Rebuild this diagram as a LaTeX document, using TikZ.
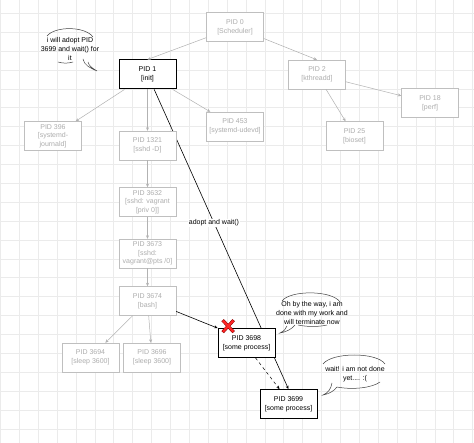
\documentclass[tikz,border=0pt]{standalone}
\usepackage{fontspec}
\setmainfont{Liberation Sans}
\usetikzlibrary{positioning,calc,arrows.meta,backgrounds}

\begin{document}
\begin{tikzpicture}[x=1pt,y=-1pt,>={Stealth[length=3.5pt,width=3pt]}]
        \tikzstyle{proc}=[draw=black!25,text=black!32,fill=white,rectangle,minimum width=57,minimum height=29,inner sep=1pt,align=center,font=\fontsize{7}{8.7}\selectfont]
        \tikzstyle{live}=[proc,draw=black,text=black,line width=0.7pt]
        \tikzstyle{fork}=[->,draw=black!30,line width=0.5pt]
        \tikzstyle{talk}=[align=center,inner sep=1pt,font=\fontsize{7}{8.7}\selectfont]
        \tikzstyle{bubble}=[draw=black!75,line width=0.5pt]

        \useasboundingbox (0,0) rectangle (474,443);
        \begin{pgfonlayer}{background}
            \fill[white] (0,0) rectangle (474,443);
            \foreach \i in {0,...,25}
                \draw[black!8,line width=0.3pt] (0.2+18.89*\i,0) -- (0.2+18.89*\i,443);
            \foreach \i in {0,...,22}
                \draw[black!8,line width=0.3pt] (0,13.1+18.89*\i) -- (474,13.1+18.89*\i);
        \end{pgfonlayer}

        % kernel side
        \node[proc] (p0) at (235,27) {PID 0\\{}[Scheduler]};
        \node[proc] (p2) at (317,74.5) {PID 2\\{}[kthreadd]};
        \node[proc] (p18) at (430,103) {PID 18\\{}[perf]};
        \node[proc] (p25) at (354.5,136) {PID 25\\{}[bioset]};

        % init and its children
        \node[live,line width=1pt] (p1) at (147.5,74.5) {PID 1\\{}[init]};
        \node[proc] (p396) at (53,136) {PID 396\\{}[systemd-\\journald]};
        \node[proc] (p453) at (235,126.5) {PID 453\\{}[systemd-udevd]};
        \node[proc] (p1321) at (147.5,145.5) {PID 1321\\{}[sshd -D]};
        \node[proc] (p3632) at (147.5,202) {PID 3632\\{}[sshd: vagrant\\{}[priv 0]]};
        \node[proc] (p3673) at (147.5,253.5) {PID 3673\\{}[sshd:\\vagrant@pts /0]};
        \node[proc] (p3674) at (147.5,301) {PID 3674\\{}[bash]};
        \node[proc] (p3694) at (90.5,357.5) {PID 3694\\{}[sleep 3600]};
        \node[proc] (p3696) at (152,357.5) {PID 3696\\{}[sleep 3600]};
        \node[live] (p3698) at (246.5,343) {PID 3698\\{}[some process]};
        \node[live] (p3699) at (288.5,404) {PID 3699\\{}[some process]};

        \draw[fork] (p0) -- (p1.north);
        \draw[fork] (p0) -- (p2.north);
        \draw[fork] (p2) -- (p18);
        \draw[fork] (p2) -- (p25);
        \draw[fork] (p1) -- (p396);
        \draw[fork] (p1) -- (p453);
        \draw[fork] (p1) -- (p1321);
        \draw[fork] (p1321) -- (p3632);
        \draw[fork] (p3632) -- (p3673);
        \draw[fork] (p3673) -- (p3674);
        \draw[fork] (p3674) -- (p3694);
        \draw[fork] (p3674) -- (p3696);

        \draw[->,line width=0.6pt] (p3674.-20) -- (p3698.north west);
        \draw[->,dashed,line width=0.5pt] ($(p3698.south)+(9,0)$) -- ($(p3699.north)+(-9,0)$);
        \begin{pgfonlayer}{background}
            \draw[->,line width=0.6pt] (p1) -- node[talk,pos=0.445,fill=white] (adopt) {adopt and wait()} (p3699.north);
        \end{pgfonlayer}

        % the dying parent
        \coordinate (kill) at ($(p3698.north west)+(10.5,-2)$);
        \draw[red!55!black,line width=3.2pt] (kill) +(-5.5,-6) -- +(5.5,6) (kill) +(-5.5,6) -- +(5.5,-6);
        \draw[red!85,line width=2.2pt] (kill) +(-5.2,-5.6) -- +(5.2,5.6) (kill) +(-5.2,5.6) -- +(5.2,-5.6);

        % speech bubbles
        \node[talk] (sayadopt) at (70,49) {i will adopt PID\\3699 and wait() for\\it};
        \draw[bubble] (47,36) .. controls (55,26) and (85,26) .. (93,37);
        \draw[bubble] (58,62) .. controls (63,63.5) and (68,63.5) .. (73,62);
        \draw[bubble] (83,59) .. controls (84,65) and (90,68) .. (97,71) .. controls (92,68) and (89,66) .. (88,62);

        \node[talk] (saydone) at (312,313) {Oh by the way, i am\\done with my work and\\will terminate now};
        \draw[bubble] (282,301) .. controls (290,290) and (332,290) .. (340,302);
        \draw[bubble] (298,325) .. controls (308,327) and (318,327) .. (327,325);
        \draw[bubble] (295,325) .. controls (292,329) and (286,332) .. (280,333) .. controls (284,331) and (286,329) .. (287,326);

        \node[talk] (saywait) at (355,374.5) {wait! i am not done\\yet.... :(};
        \draw[bubble] (323,364) .. controls (332,352) and (377,352) .. (385,364);
        \draw[bubble] (337,387) .. controls (352,390) and (372,388) .. (380,382);
        \draw[bubble] (332,383) .. controls (331,389) and (328,393) .. (323,395) .. controls (329,394) and (334,391) .. (337,387);
\end{tikzpicture}
\end{document}
